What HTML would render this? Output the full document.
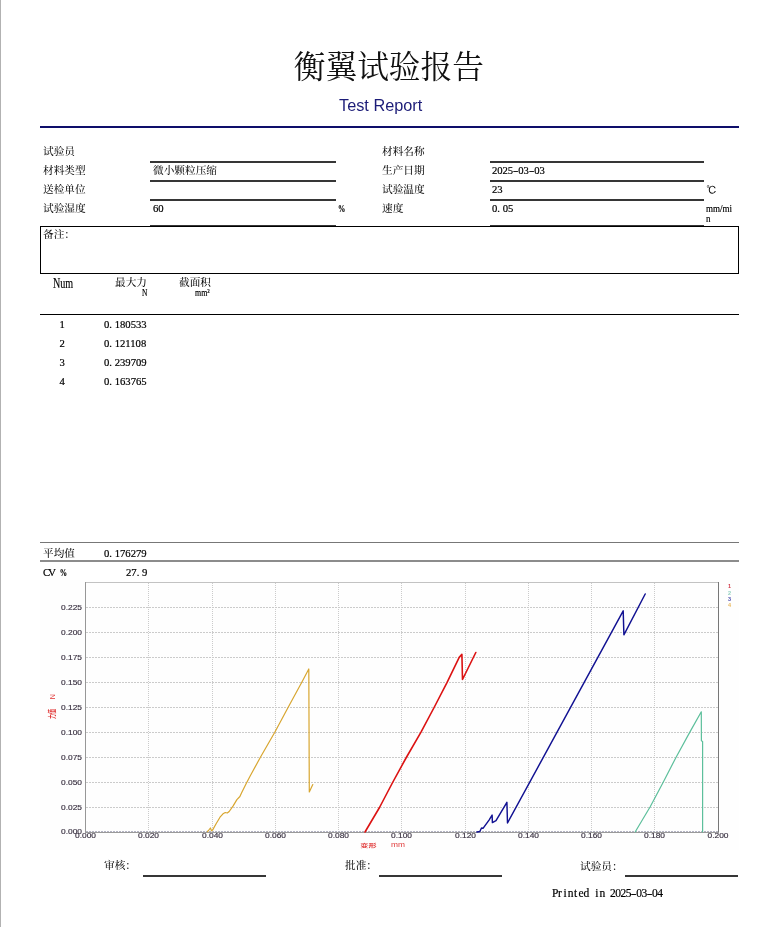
<!DOCTYPE html>
<html lang="zh-CN">
<head>
<meta charset="utf-8">
<title>衡翼试验报告</title>
<style>
html,body{margin:0;padding:0;background:#fff;}
body{width:781px;height:927px;position:relative;overflow:hidden;}
.t{position:absolute;white-space:nowrap;font-family:"Liberation Serif","Noto Serif CJK SC",serif;font-weight:500;font-size:10.67px;line-height:10.67px;color:#111;}
.n{position:absolute;white-space:nowrap;font-family:"Liberation Serif","Noto Serif CJK SC",serif;font-weight:400;font-size:10.67px;line-height:10.67px;color:#000;-webkit-text-stroke:0.2px #000;}
.p{letter-spacing:2.67px;}
.d{padding:0 0.89px;}
.m{display:inline-block;width:5.28px;text-align:center;}
.h{position:absolute;background:#363636;height:2px;}
.edge{position:absolute;left:0;top:0;width:1px;height:927px;background:#b2b2b2;}
#title{position:absolute;left:-1.7px;width:781px;top:48px;text-align:center;font-family:"Liberation Serif","Noto Serif CJK SC",serif;font-size:31.7px;line-height:40px;color:#111;}
#sub{position:absolute;left:339px;top:96px;font-family:"Liberation Sans",sans-serif;font-size:16.3px;line-height:18px;color:#1c1c78;white-space:nowrap;}
#bar{position:absolute;left:40px;top:126px;width:699px;height:2px;background:#0e0e6a;}
#box{position:absolute;left:40px;top:226px;width:697px;height:46px;border:1px solid #000;}
svg{position:absolute;left:0;top:0;}
</style>
</head>
<body>
<div class="edge"></div>
<div id="title">衡翼试验报告</div>
<div id="sub">Test Report</div>
<div id="bar"></div>

<!-- form left -->
<div class="t" style="left:43px;top:146px">试验员</div>
<div class="t" style="left:43px;top:165px">材料类型</div>
<div class="t" style="left:43px;top:184px">送检单位</div>
<div class="t" style="left:43px;top:203px">试验湿度</div>
<div class="h" style="left:150px;top:161px;width:186px"></div>
<div class="h" style="left:150px;top:180px;width:186px"></div>
<div class="h" style="left:150px;top:199px;width:186px"></div>
<div class="h" style="left:150px;top:225px;width:186px"></div>
<div class="t" style="left:153px;top:165px">微小颗粒压缩</div>
<div class="n" style="left:153px;top:203px">60</div>
<div class="n" style="left:338px;top:203px;font-weight:700;transform:scaleX(0.68);transform-origin:0 0">%</div>

<!-- form right -->
<div class="t" style="left:382px;top:146px">材料名称</div>
<div class="t" style="left:382px;top:165px">生产日期</div>
<div class="t" style="left:382px;top:184px">试验温度</div>
<div class="t" style="left:382px;top:203px">速度</div>
<div class="h" style="left:490px;top:161px;width:214px"></div>
<div class="h" style="left:490px;top:180px;width:214px"></div>
<div class="h" style="left:490px;top:199px;width:214px"></div>
<div class="h" style="left:490px;top:225px;width:214px"></div>
<div class="n" style="left:492px;top:165px"><span class="m">2</span><span class="m">0</span><span class="m">2</span><span class="m">5</span><span class="m" style="transform:scaleX(1.5)">-</span><span class="m">0</span><span class="m">3</span><span class="m" style="transform:scaleX(1.5)">-</span><span class="m">0</span><span class="m">3</span></div>
<div class="n" style="left:492px;top:184px">23</div>
<div class="n" style="left:492px;top:203px">0<span class="p">.</span>05</div>
<div class="t" style="left:706.3px;top:184.5px;font-weight:400;font-family:'Liberation Serif','IPAGothic',sans-serif;color:#000">℃</div>
<div class="n" style="left:706px;top:203px;line-height:10.3px;transform:scaleX(0.845);transform-origin:0 0">mm/mi<br>n</div>

<div id="box"></div>
<div class="t" style="left:43px;top:229px">备注：</div>

<!-- table header -->
<div class="n" style="left:53.3px;top:274.7px;font-size:15.2px;line-height:15.2px;transform:scaleX(0.665);transform-origin:0 0">Num</div>
<div class="t" style="left:115px;top:277px">最大力</div>
<div class="n" style="left:142px;top:287.5px;font-size:10.5px;transform:scaleX(0.71);transform-origin:0 0">N</div>
<div class="t" style="left:179px;top:277px">截面积</div>
<div class="n" style="left:195px;top:287.5px;font-size:10.5px;transform:scaleX(0.75);transform-origin:0 0">mm²</div>
<div style="position:absolute;left:40px;top:314px;width:699px;height:1px;background:#000"></div>

<div class="n" style="left:59.5px;top:319px">1</div>
<div class="n" style="left:104px;top:319px">0<span class="p">.</span>180533</div>
<div class="n" style="left:59.5px;top:338px">2</div>
<div class="n" style="left:104px;top:338px">0<span class="p">.</span>121108</div>
<div class="n" style="left:59.5px;top:357px">3</div>
<div class="n" style="left:104px;top:357px">0<span class="p">.</span>239709</div>
<div class="n" style="left:59.5px;top:376px">4</div>
<div class="n" style="left:104px;top:376px">0<span class="p">.</span>163765</div>

<!-- stats -->
<div style="position:absolute;left:40px;top:542px;width:699px;height:1px;background:#777"></div>
<div class="t" style="left:43px;top:548px">平均值</div>
<div class="n" style="left:104px;top:548px">0<span class="p">.</span>176279</div>
<div style="position:absolute;left:40px;top:560px;width:699px;height:2px;background:#8c8c8c"></div>
<div class="n" style="left:43px;top:567px"><span class="m">C</span><span class="m">V</span><span class="m">&nbsp;</span><span class="m" style="font-weight:700;transform:scaleX(0.68)">%</span></div>
<div class="n" style="left:126px;top:567px">27<span class="p">.</span>9</div>

<!-- chart -->
<svg width="781" height="927" viewBox="0 0 781 927">
  <rect x="40" y="580" width="699" height="270" fill="#fefefe"/>
  <g stroke="#cbcbcb" stroke-width="1" fill="none">
    <path stroke-dasharray="2 1" d="M86 607.5H718M86 632.5H718M86 657.5H718M86 682.5H718M86 707.5H718M86 732.5H718M86 757.5H718M86 782.5H718M86 807.5H718"/>
    <path stroke-dasharray="1 1" d="M148.5 583V831M212.5 583V831M275.5 583V831M338.5 583V831M401.5 583V831M465.5 583V831M528.5 583V831M591.5 583V831M654.5 583V831"/>
  </g>
  <path d="M86 582.5H718" stroke="#c2c2c2" stroke-width="1"/>
  <path d="M718.5 582V833" stroke="#777" stroke-width="1"/>
  <path d="M85.5 582V833" stroke="#979797" stroke-width="1"/>
  <path d="M85 832.5H719" stroke="#9a9a9a" stroke-width="1"/>
  <path d="M86 831.5H718" stroke="#b4b4c4" stroke-width="1" stroke-dasharray="2 1"/>
  <g font-family="'Liberation Sans','DejaVu Sans',sans-serif" font-size="6.8" fill="#3a3242" stroke="#3a3242" stroke-width="0.15" text-anchor="end">
    <text x="82" y="609.8" textLength="21" lengthAdjust="spacingAndGlyphs">0.225</text>
    <text x="82" y="634.8" textLength="21" lengthAdjust="spacingAndGlyphs">0.200</text>
    <text x="82" y="659.8" textLength="21" lengthAdjust="spacingAndGlyphs">0.175</text>
    <text x="82" y="684.8" textLength="21" lengthAdjust="spacingAndGlyphs">0.150</text>
    <text x="82" y="709.8" textLength="21" lengthAdjust="spacingAndGlyphs">0.125</text>
    <text x="82" y="734.8" textLength="21" lengthAdjust="spacingAndGlyphs">0.100</text>
    <text x="82" y="759.8" textLength="21" lengthAdjust="spacingAndGlyphs">0.075</text>
    <text x="82" y="784.8" textLength="21" lengthAdjust="spacingAndGlyphs">0.050</text>
    <text x="82" y="809.8" textLength="21" lengthAdjust="spacingAndGlyphs">0.025</text>
    <text x="82" y="834" textLength="21" lengthAdjust="spacingAndGlyphs">0.000</text>
  </g>
  <g font-family="'Liberation Sans','DejaVu Sans',sans-serif" font-size="6.8" fill="#3a3242" stroke="#3a3242" stroke-width="0.15" text-anchor="middle">
    <text x="85.5" y="838.2" textLength="21" lengthAdjust="spacingAndGlyphs">0.000</text>
    <text x="148.5" y="838.2" textLength="21" lengthAdjust="spacingAndGlyphs">0.020</text>
    <text x="212.5" y="838.2" textLength="21" lengthAdjust="spacingAndGlyphs">0.040</text>
    <text x="275.5" y="838.2" textLength="21" lengthAdjust="spacingAndGlyphs">0.060</text>
    <text x="338.5" y="838.2" textLength="21" lengthAdjust="spacingAndGlyphs">0.080</text>
    <text x="401.5" y="838.2" textLength="21" lengthAdjust="spacingAndGlyphs">0.100</text>
    <text x="465.5" y="838.2" textLength="21" lengthAdjust="spacingAndGlyphs">0.120</text>
    <text x="528.5" y="838.2" textLength="21" lengthAdjust="spacingAndGlyphs">0.140</text>
    <text x="591.5" y="838.2" textLength="21" lengthAdjust="spacingAndGlyphs">0.160</text>
    <text x="654.5" y="838.2" textLength="21" lengthAdjust="spacingAndGlyphs">0.180</text>
    <text x="718" y="838.2" textLength="21" lengthAdjust="spacingAndGlyphs">0.200</text>
  </g>
  <!-- axis titles -->
  <text transform="translate(360.3,847.3) scale(1,0.58)" font-family="'Liberation Sans','Noto Sans CJK SC',sans-serif" font-size="8" font-weight="bold" fill="#e03a3a" textLength="16.4" lengthAdjust="spacingAndGlyphs">变形</text>
  <text x="391" y="847" font-family="'Liberation Sans','DejaVu Sans',sans-serif" font-size="6.5" fill="#e03a3a" textLength="14" lengthAdjust="spacingAndGlyphs">mm</text>
  <text transform="translate(54.5,719) rotate(-90)" font-family="'Liberation Sans','Noto Sans CJK SC',sans-serif" font-size="7.5" font-weight="bold" fill="#e03030" textLength="10" lengthAdjust="spacingAndGlyphs">力值</text>
  <text transform="translate(54.8,699.2) rotate(-90)" font-family="'Liberation Sans','DejaVu Sans',sans-serif" font-size="7.2" fill="#e03030">N</text>
  <!-- legend -->
  <g font-family="'Liberation Sans','DejaVu Sans',sans-serif" font-size="5.5" font-weight="bold">
    <text x="728" y="588" fill="#d23a4a">1</text>
    <text x="728" y="594.8" fill="#8fd0bd">2</text>
    <text x="728" y="601" fill="#5050b0">3</text>
    <text x="728" y="607" fill="#e8b860">4</text>
  </g>
  <!-- curves -->
  <g fill="none" stroke-linejoin="round" stroke-linecap="round">
    <path stroke="#d8a630" stroke-width="1.2" d="M207.5 831.5L208.5 830.5L210.4 828L211.5 830.8L212.7 829.9L216.1 823.8L220 817.2L223 813.8L225.3 812.5L227.3 813L229.2 811.5L233 806.1L236.9 799.6L239.9 796.5L241.5 793L246.1 783.8L249.9 776.5L260.4 757.3L274.8 732.2L288.2 707.2L301.8 682.3L308.8 669L309.3 792L312.8 784.5"/>
    <path stroke="#dc1212" stroke-width="1.6" d="M365 832L379.5 807.5L392.6 782.5L406.3 757.5L421 732.2L434.1 707.5L447.1 682.3L459.2 657.4L461.9 654.3L462.5 679.5L475.8 652.5"/>
    <path stroke="#111192" stroke-width="1.45" d="M477 832L479.8 831.5L481.5 828L483.2 828.2L489.2 819.8L492.1 815L492.4 822.6L496 820.7L506.9 802.3L507.5 823L623.2 610.8L623.9 634.8L645.2 594"/>
    <path stroke="#5cbf9b" stroke-width="1.2" d="M635.3 831.8L650.2 806.8L663.2 782.2L676.1 757.2L689.7 732.4L701.3 711.8L701.4 740.8L702.6 741.5L702.6 831.8"/>
  </g>
</svg>

<!-- signatures -->
<div class="t" style="left:104px;top:860px">审核：</div>
<div class="h" style="left:143px;top:875px;width:123px"></div>
<div class="t" style="left:345px;top:860px">批准：</div>
<div class="h" style="left:379px;top:875px;width:123px"></div>
<div class="t" style="left:580px;top:861px">试验员：</div>
<div class="h" style="left:625px;top:875px;width:113px"></div>
<div class="n" style="left:552px;top:888px;font-size:11.5px;line-height:11.5px"><span class="m">P</span><span class="m">r</span><span class="m">i</span><span class="m">n</span><span class="m">t</span><span class="m">e</span><span class="m">d</span><span class="m">&nbsp;</span><span class="m">i</span><span class="m">n</span><span class="m">&nbsp;</span><span class="m">2</span><span class="m">0</span><span class="m">2</span><span class="m">5</span><span class="m" style="transform:scaleX(1.5)">-</span><span class="m">0</span><span class="m">3</span><span class="m" style="transform:scaleX(1.5)">-</span><span class="m">0</span><span class="m">4</span></div>
</body>
</html>
